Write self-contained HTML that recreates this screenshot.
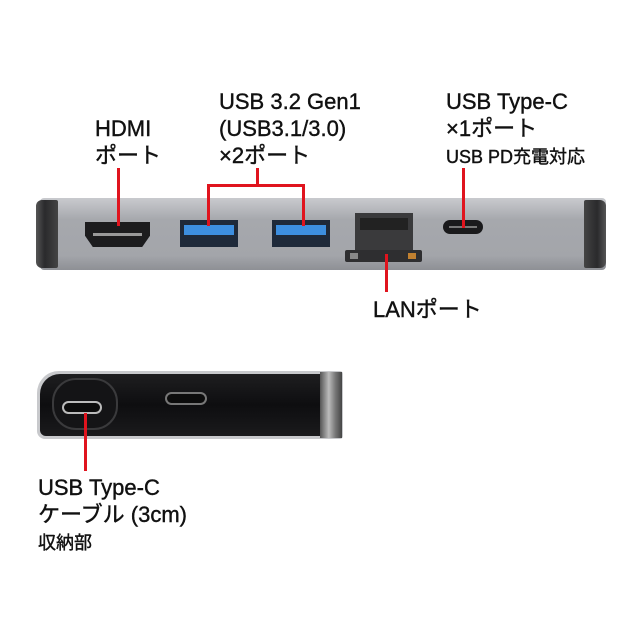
<!DOCTYPE html>
<html><head><meta charset="utf-8"><style>
body{margin:0;background:#fff;}
#c{position:relative;width:640px;height:640px;overflow:hidden;background:#fff;font-family:"Liberation Sans","Noto Sans CJK JP",sans-serif;color:#111;}
.t{position:absolute;font-size:22px;line-height:27px;white-space:nowrap;-webkit-text-stroke:0.4px #111;}
.s{font-size:18px;}
.r{position:absolute;background:#e0141e;}
.a{position:absolute;}
</style></head><body><div id="c">
<div class="t" style="left:95px;top:115px">HDMI<br>ポート</div>
<div class="t" style="left:219px;top:88px">USB 3.2 Gen1<br>(USB3.1/3.0)<br>×2ポート</div>
<div class="t" style="left:446px;top:88px">USB Type-C<br>×1ポート<br><span class="s">USB PD充電対応</span></div>
<div class="t" style="left:373px;top:296px">LANポート</div>
<div class="t" style="left:38px;top:474px">USB Type-C<br>ケーブル (3cm)<br><span class="s">収納部</span></div>

<!-- top device -->
<div class="a" style="left:40px;top:198px;width:566px;height:72px;background:linear-gradient(#c9cace,#a6a8ad 30%,#a3a5aa 80%,#8e9095);border-radius:4px;"></div>
<div class="a" style="left:36px;top:200px;width:22px;height:68px;background:linear-gradient(90deg,#555,#2a2a2c 40%,#444);border-radius:6px 2px 2px 6px;"></div>
<div class="a" style="left:584px;top:200px;width:22px;height:68px;background:linear-gradient(90deg,#444,#2a2a2c 60%,#555);border-radius:2px 6px 6px 2px;"></div>
<!-- HDMI -->
<div class="a" style="left:85px;top:222px;width:65px;height:25px;background:#1c1c1e;clip-path:polygon(0 0,100% 0,100% 55%,88% 100%,12% 100%,0 55%);"></div>
<div class="a" style="left:93px;top:233px;width:49px;height:3px;background:#999;"></div>
<!-- USB -->
<div class="a" style="left:180px;top:220px;width:58px;height:27px;background:#1f2a3a;"></div>
<div class="a" style="left:184px;top:225px;width:50px;height:10px;background:#3d8fe0;"></div>
<div class="a" style="left:272px;top:220px;width:58px;height:27px;background:#1f2a3a;"></div>
<div class="a" style="left:276px;top:225px;width:50px;height:10px;background:#3d8fe0;"></div>
<!-- LAN -->
<div class="a" style="left:355px;top:213px;width:58px;height:42px;background:#3a3a3c;"></div>
<div class="a" style="left:360px;top:218px;width:48px;height:12px;background:#222;"></div>
<div class="a" style="left:345px;top:250px;width:77px;height:12px;background:#2e2e30;border-radius:2px;"></div>
<div class="a" style="left:350px;top:253px;width:8px;height:6px;background:#888;"></div>
<div class="a" style="left:408px;top:253px;width:8px;height:6px;background:#c08030;"></div>
<!-- USB-C -->
<div class="a" style="left:443px;top:220px;width:40px;height:14px;background:#1a1a1c;border-radius:7px;"></div>
<div class="a" style="left:449px;top:226px;width:28px;height:2px;background:#777;"></div>
<!-- red lines top -->
<div class="r" style="left:117px;top:168px;width:3px;height:58px;"></div>
<div class="r" style="left:256px;top:168px;width:3px;height:18px;"></div>
<div class="r" style="left:207px;top:184px;width:98px;height:3px;"></div>
<div class="r" style="left:207px;top:184px;width:3px;height:42px;"></div>
<div class="r" style="left:302px;top:184px;width:3px;height:42px;"></div>
<div class="r" style="left:462px;top:168px;width:3px;height:60px;"></div>
<div class="r" style="left:385px;top:254px;width:3px;height:38px;"></div>

<!-- bottom device -->
<div class="a" style="left:37px;top:371px;width:306px;height:68px;background:#c8c9cc;border-radius:22px 3px 3px 8px;"></div>
<div class="a" style="left:40px;top:374px;width:290px;height:62px;background:linear-gradient(#1e1e20,#0e0e10 50%,#1a1a1c);border-radius:20px 2px 2px 6px;"></div>
<div class="a" style="left:320px;top:372px;width:22px;height:66px;background:linear-gradient(90deg,#555,#bbb 40%,#777 70%,#444);"></div>
<div class="a" style="left:52px;top:378px;width:66px;height:52px;background:#141416;border:2px solid #3a3a3c;border-radius:24px;box-sizing:border-box;"></div>
<div class="a" style="left:62px;top:401px;width:40px;height:13px;background:#0c0c0c;border:2px solid #bbb;border-radius:7px;box-sizing:border-box;"></div>
<div class="a" style="left:165px;top:392px;width:42px;height:13px;background:#0c0c0c;border:2px solid #777;border-radius:7px;box-sizing:border-box;"></div>
<div class="r" style="left:84px;top:413px;width:3px;height:58px;"></div>
</div></body></html>
